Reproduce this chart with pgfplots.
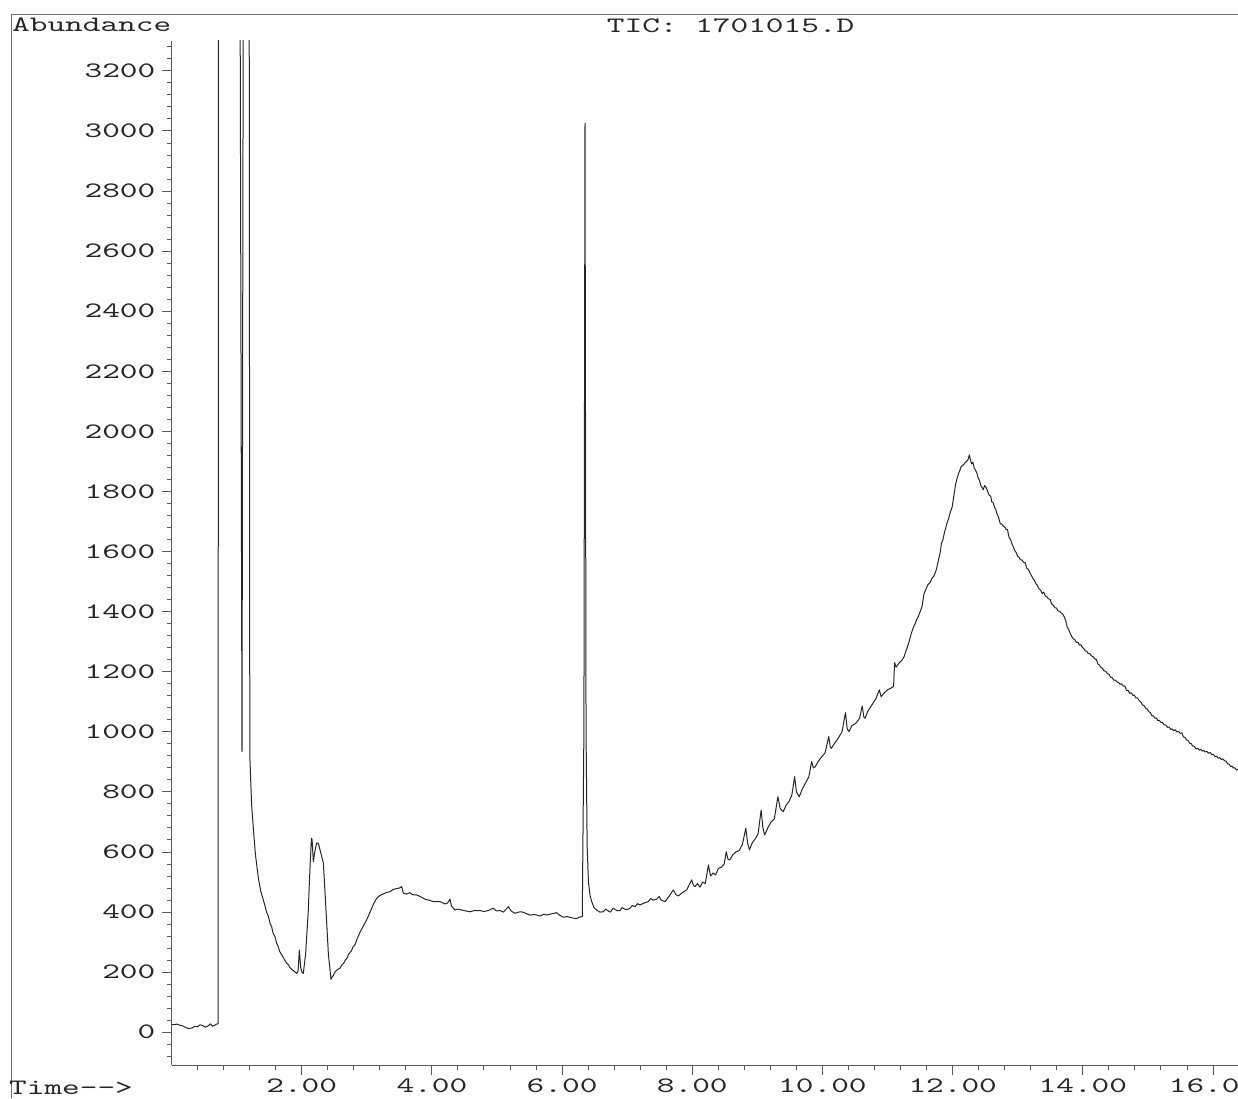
\documentclass[border=0pt]{standalone}
\usepackage{fontspec}
\usepackage{pgfplots}
\pgfplotsset{compat=1.18}
\newfontfamily\chem[FakeStretch=1.53]{lmmono10-regular.otf}
\newcommand\chemfont{\fontsize{22}{26}\selectfont\chem}
\begin{document}
\begin{tikzpicture}[x=1pt,y=1pt]
\begin{axis}[
  at={(171.5pt,32.7pt)}, anchor=south west,
  scale only axis, width=1066.3pt, height=1024.4pt,
  xmin=0, xmax=16.38, ymin=-110, ymax=3300,
  axis x line*=bottom, axis y line*=left,
  axis line style={black!65, line width=1.1pt},
  tick style={black!65, line width=1pt},
  tick align=outside,
  major tick length=10pt, minor tick length=4.5pt,
  xtick={2,4,...,16},
  xticklabels={2.00,4.00,6.00,8.00,10.00,12.00,14.00,16.00},
  minor xtick={0.4,0.8,...,16.4},
  ytick={0,200,...,3200},
  yticklabels={0,200,400,600,800,1000,1200,1400,1600,1800,2000,2200,2400,2600,2800,3000,3200},
  minor ytick={-80,-40,...,3280},
  /pgf/number format/assume math mode=true,
  ticklabel style={font=\chemfont, text=black!85},
  xticklabel style={anchor=north, inner sep=0pt, yshift=-3pt},
  yticklabel style={anchor=east, inner sep=0pt, xshift=-6pt},
  clip=true,
]
\addplot[black!85, line width=1pt, line join=round, mark=none] coordinates {
(0.00,26) (0.04,25) (0.08,27) (0.12,24) (0.16,22) (0.20,18) (0.24,14) (0.28,12) (0.32,15) (0.36,20) (0.40,18) (0.44,25) (0.48,22) (0.52,17) (0.56,21) (0.60,28) (0.63,20) (0.66,23) (0.69,27) (0.715,28)
(0.722,3600) (1.052,3600) (1.083,934) (1.103,3600) (1.193,3600)
(1.203,920) (1.23,760) (1.26,670) (1.29,590) (1.335,512) (1.37,470) (1.411,440) (1.44,418) (1.46,400) (1.49,385) (1.513,363) (1.54,350) (1.56,330) (1.59,318) (1.616,296) (1.64,285) (1.66,270) (1.70,255) (1.73,244) (1.769,230) (1.80,224) (1.82,215) (1.87,205) (1.90,200) (1.923,196) (1.945,205) (1.964,274) (1.985,215) (2.005,200) (2.025,196) (2.06,260) (2.10,400) (2.13,560) (2.150,646) (2.160,640) (2.179,568) (2.20,600) (2.23,630) (2.256,629) (2.29,600) (2.333,563) (2.37,420) (2.41,260) (2.450,176) (2.47,185) (2.49,190) (2.51,200) (2.53,205) (2.56,210) (2.588,213) (2.62,225) (2.645,230) (2.67,240) (2.70,248) (2.72,260) (2.76,270) (2.793,285) (2.82,292) (2.85,310) (2.90,335) (2.95,355) (2.998,374) (3.05,400) (3.10,425) (3.152,446) (3.20,455) (3.25,460) (3.30,465) (3.357,468) (3.40,475) (3.45,478) (3.50,480) (3.536,485) (3.561,463) (3.613,460) (3.664,465) (3.70,458) (3.766,457) (3.818,452) (3.894,443) (3.95,440) (4.022,435) (4.124,435) (4.201,427) (4.24,430) (4.278,443) (4.30,420) (4.355,407) (4.40,410) (4.458,407) (4.52,404) (4.585,401) (4.65,405) (4.739,405) (4.80,402) (4.866,405) (4.943,413) (4.99,404) (5.046,405) (5.10,400) (5.174,418) (5.22,403) (5.276,396) (5.33,400) (5.379,401) (5.44,396) (5.507,390) (5.58,392) (5.661,387) (5.72,393) (5.763,390) (5.83,394) (5.917,398) (5.96,390) (6.018,383) (6.08,385) (6.172,380) (6.22,378) (6.264,383) (6.31,385)
(6.335,1000) (6.352,3026) (6.368,1000) (6.385,620) (6.405,500) (6.43,455) (6.455,435) (6.49,415) (6.53,407) (6.58,400) (6.633,401) (6.67,410) (6.70,405) (6.74,400) (6.787,413) (6.84,405) (6.889,405) (6.92,415) (6.96,410) (7.00,408) (7.043,413) (7.08,422) (7.12,418) (7.16,428) (7.197,424) (7.26,430) (7.324,435) (7.36,445) (7.40,440) (7.453,443) (7.49,452) (7.52,440) (7.581,435) (7.62,446) (7.65,455) (7.708,474) (7.75,458) (7.785,454) (7.85,465) (7.914,474) (7.95,490) (7.991,507) (8.02,488) (8.042,485) (8.08,495) (8.118,483)
(8.16,500) (8.20,495) (8.248,557) (8.28,520) (8.32,530) (8.358,524) (8.40,545) (8.45,550) (8.49,560) (8.522,601) (8.55,575) (8.577,574) (8.62,590) (8.67,600) (8.72,605) (8.77,625) (8.822,679) (8.85,630) (8.877,607) (8.92,630) (8.97,645) (9.01,660) (9.058,740) (9.085,680) (9.112,657) (9.16,680) (9.21,700) (9.26,710) (9.315,784) (9.35,745) (9.397,734) (9.44,755) (9.49,770) (9.53,790) (9.572,851) (9.60,800) (9.643,784) (9.69,810) (9.74,830) (9.79,850) (9.834,901) (9.86,880) (9.889,884) (9.93,900) (9.98,915) (10.04,930) (10.096,984) (10.12,950) (10.135,945) (10.18,960) (10.23,975) (10.30,1000) (10.353,1064) (10.38,1010) (10.408,1001) (10.45,1020) (10.52,1030) (10.57,1045) (10.610,1086) (10.635,1050) (10.654,1045) (10.70,1070) (10.76,1090) (10.82,1110) (10.873,1140) (10.90,1117) (10.95,1130) (11.00,1140) (11.05,1145) (11.092,1151) (11.108,1231) (11.13,1215) (11.18,1230) (11.22,1238) (11.255,1251) (11.28,1268) (11.30,1280) (11.33,1300) (11.365,1328) (11.40,1350) (11.42,1358) (11.45,1375) (11.475,1385) (11.50,1400) (11.529,1417) (11.56,1460) (11.584,1472) (11.60,1480) (11.62,1490) (11.65,1496) (11.68,1510) (11.71,1518) (11.748,1539) (11.77,1560) (11.79,1580) (11.81,1600) (11.829,1628) (11.85,1640) (11.87,1660) (11.89,1676) (11.911,1694) (11.93,1705) (11.95,1720) (11.97,1735) (11.994,1750) (12.02,1790) (12.048,1827) (12.07,1845) (12.09,1860) (12.11,1870) (12.130,1883) (12.15,1886) (12.17,1890) (12.19,1896) (12.212,1900) (12.235,1905) (12.255,1922) (12.27,1908)
(12.29,1892) (12.31,1898) (12.33,1878) (12.349,1872) (12.37,1862) (12.39,1846) (12.41,1838) (12.431,1820) (12.45,1814) (12.47,1806) (12.49,1820) (12.513,1814) (12.535,1802) (12.56,1788) (12.585,1784) (12.60,1766) (12.622,1763) (12.645,1746) (12.66,1742) (12.68,1726) (12.705,1714) (12.732,1692) (12.755,1692) (12.78,1684) (12.80,1682) (12.82,1674) (12.841,1674) (12.865,1648) (12.89,1640) (12.91,1626) (12.935,1614) (12.955,1603) (12.978,1596) (13.00,1583) (13.02,1582) (13.04,1573) (13.065,1572) (13.09,1564) (13.114,1563) (13.14,1543) (13.16,1542) (13.19,1528) (13.21,1520) (13.235,1510) (13.255,1504) (13.278,1493) (13.30,1488) (13.325,1476) (13.35,1472) (13.375,1460) (13.40,1465) (13.42,1453) (13.445,1450) (13.47,1443) (13.497,1441) (13.52,1426) (13.545,1422) (13.57,1413) (13.595,1412) (13.62,1402) (13.64,1402) (13.665,1396) (13.69,1392) (13.716,1382) (13.74,1367) (13.76,1348) (13.78,1342) (13.80,1330) (13.825,1319) (13.85,1310) (13.875,1307) (13.90,1298) (13.925,1298) (13.95,1288) (13.97,1290) (13.989,1282) (14.01,1278) (14.035,1270) (14.06,1268) (14.085,1260) (14.11,1260) (14.13,1253) (14.16,1250) (14.185,1242) (14.208,1241) (14.23,1226) (14.255,1222) (14.28,1213) (14.30,1212) (14.325,1203) (14.35,1202) (14.375,1194) (14.40,1192) (14.426,1182) (14.45,1180) (14.475,1172) (14.50,1172) (14.525,1166) (14.55,1164) (14.57,1158) (14.595,1160) (14.62,1152) (14.645,1153) (14.67,1138) (14.695,1138) (14.72,1128) (14.745,1130) (14.77,1121) (14.79,1122) (14.815,1113) (14.84,1113) (14.864,1104) (14.89,1100) (14.915,1090) (14.94,1087) (14.965,1078) (14.99,1076) (15.01,1068) (15.035,1064) (15.06,1054) (15.083,1053) (15.11,1045) (15.13,1046) (15.15,1038) (15.175,1038) (15.20,1031) (15.22,1032) (15.245,1024) (15.275,1022) (15.301,1015) (15.325,1016) (15.35,1008) (15.37,1010) (15.395,1004) (15.42,1007) (15.44,1000) (15.47,1001) (15.495,995) (15.520,997) (15.545,983) (15.57,982) (15.59,973) (15.615,972) (15.64,962) (15.66,962) (15.685,953) (15.71,952) (15.739,943) (15.765,945) (15.79,939) (15.81,942) (15.835,936) (15.86,938) (15.88,933) (15.905,935) (15.93,929) (15.957,931) (15.98,924) (16.005,925) (16.03,918) (16.055,919) (16.08,912) (16.10,914) (16.125,908) (16.15,910) (16.176,904) (16.20,902) (16.225,893) (16.25,892) (16.27,884) (16.29,886) (16.31,880) (16.335,880) (16.36,873) (16.38,875)
};
\end{axis}
\draw[black!55, line width=1pt] (11,0) -- (11,1083.5) -- (1238,1083.5);
\node[anchor=base west, inner sep=0pt, font=\chemfont, text=black!85] at (12,1066.3) {Abundance};
\node[anchor=base west, inner sep=0pt, font=\chemfont, text=black!85] at (606.7,1065.7) {TIC: 1701015.D};
\node[anchor=base west, inner sep=0pt, font=\chemfont, text=black!85] at (9,3.5) {Time-{}-{}>};
\pgfresetboundingbox
\path[use as bounding box] (0,0) rectangle (1238,1098);
\end{tikzpicture}
\end{document}
